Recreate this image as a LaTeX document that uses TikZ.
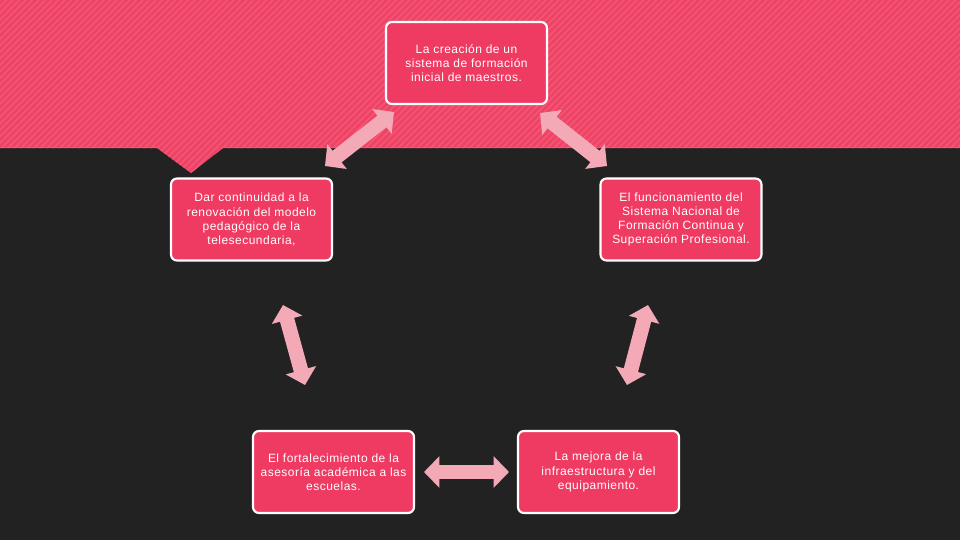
\documentclass[tikz,border=0pt]{standalone}
\usepackage{fontspec}
\setmainfont{Liberation Sans}
\usetikzlibrary{arrows.meta}
\definecolor{bgdark}{HTML}{222222}
\definecolor{bandpink}{HTML}{EF4366}
\definecolor{stripepink}{HTML}{F35574}
\definecolor{boxpink}{HTML}{EF3A62}
\definecolor{arrowpink}{HTML}{F4A9B6}
\tikzset{
  x=0.75pt, y=-0.75pt,
  box/.style={draw=white, line width=1.6pt, fill=boxpink, rounded corners=4.5pt,
    minimum width=120.75pt, minimum height=61.5pt, inner sep=2pt,
    text=white, align=center,
    font=\fontsize{9}{10.6}\selectfont\addfontfeature{LetterSpace=4}},
  fatarrow/.style={draw=arrowpink, line width=11pt,
    {Triangle[width=23pt,length=11.5pt]}-{Triangle[width=23pt,length=11.5pt]}}
}
\begin{document}
\begin{tikzpicture}
\useasboundingbox (0,0) rectangle (960,540);
\fill[bgdark] (0,0) rectangle (960,540);
% striped band with notch
\fill[bandpink] (0,0) -- (960,0) -- (960,148) -- (223,148) -- (191,173) -- (157,148) -- (0,148) -- cycle;
\begin{scope}
  \clip (0,0) -- (960,0) -- (960,148) -- (223,148) -- (191,173) -- (157,148) -- (0,148) -- cycle;
  \foreach \i in {-30,...,170} {
    \draw[stripepink, line width=1.3pt] (\i*6.5-200,200) -- (\i*6.5,0);
  }
\end{scope}
\draw[stripepink, line width=0.8pt] (0,147.5) -- (157,147.5);
\draw[stripepink, line width=0.8pt] (223,147.5) -- (960,147.5);

\node[box] (top) at (466.5,63) {La creación de un\\sistema de formación\\inicial de maestros.};
\node[box] (left) at (251.5,219.5) {Dar continuidad a la\\renovación del modelo\\pedagógico de la\\telesecundaria,};
\node[box] (right) at (681,219.5) {El funcionamiento del\\Sistema Nacional de\\Formación Continua y\\Superación Profesional.};
\node[box] (bl) at (333.5,472) {El fortalecimiento de la\\asesoría académica a las\\escuelas.};
\node[box] (br) at (598.5,472) {La mejora de la\\infraestructura y del\\equipamiento.};

\coordinate (a1s) at (325,166); \coordinate (a1e) at (394,112);
\coordinate (a2s) at (540,113); \coordinate (a2e) at (607,166);
\coordinate (a3s) at (283,305); \coordinate (a3e) at (305,385);
\coordinate (a4s) at (648,305); \coordinate (a4e) at (627,385);
\coordinate (a5s) at (424,472); \coordinate (a5e) at (509,472);
\draw[fatarrow] (a1s) -- (a1e);
\draw[fatarrow] (a2s) -- (a2e);
\draw[fatarrow] (a3s) -- (a3e);
\draw[fatarrow] (a4s) -- (a4e);
\draw[fatarrow] (a5s) -- (a5e);
\end{tikzpicture}
\end{document}
